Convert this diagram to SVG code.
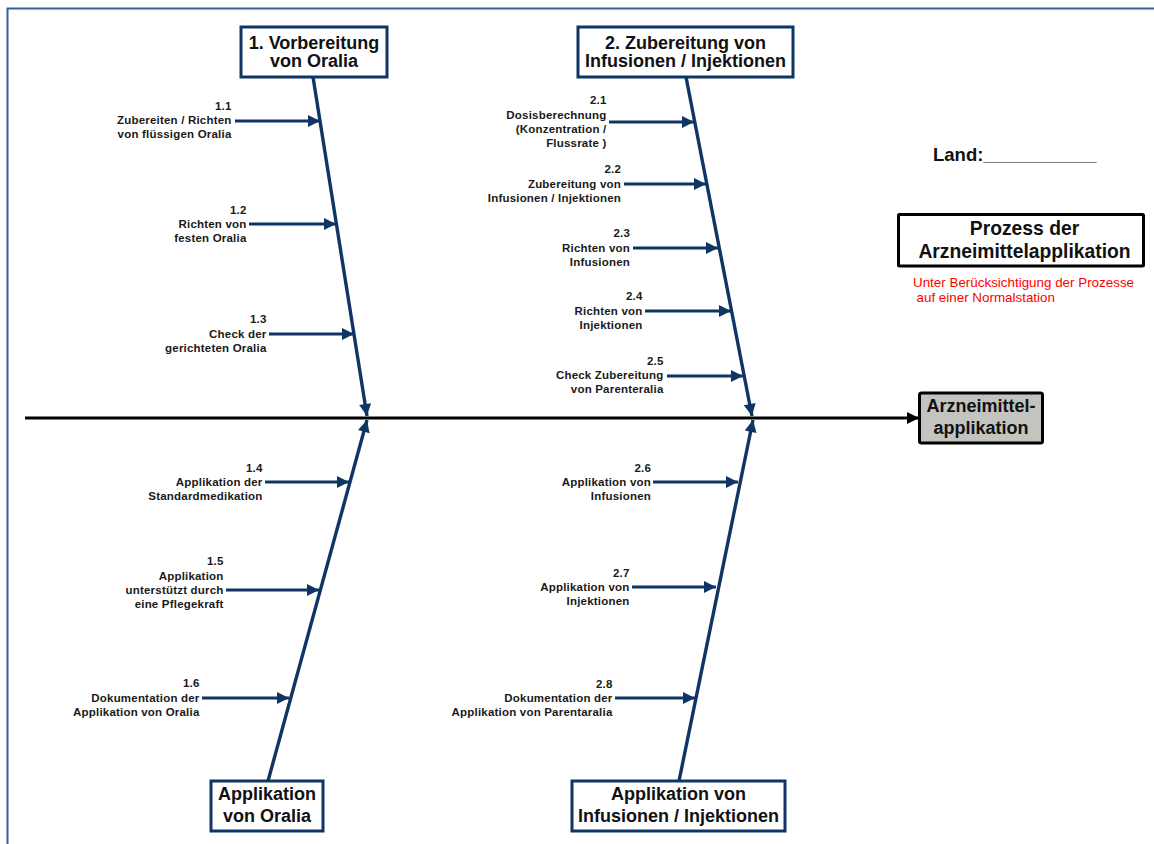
<svg xmlns="http://www.w3.org/2000/svg" width="1154" height="844" viewBox="0 0 1154 844">
  <style>
    .frame { fill: none; stroke: #34609a; stroke-width: 2; }
    .box { fill: #ffffff; stroke: #0f3565; stroke-width: 3; }
    .head { font-family: "Liberation Sans", Arial, sans-serif; font-weight: bold; font-size: 18px; fill: #111; text-anchor: middle; }
    .lbl { font-family: "Liberation Sans", Arial, sans-serif; font-weight: bold; font-size: 11.5px; letter-spacing: 0.2px; fill: #1a1a1a; text-anchor: end; }
    .spine { stroke: #0f3565; stroke-width: 3.4; fill: none; }
    .branch { stroke: #0f3565; stroke-width: 2.8; fill: none; }
    .main { stroke: #000; stroke-width: 3.2; fill: none; }
  </style>
  <defs>
    <marker id="arrNavy" viewBox="0 0 10 10" refX="10" refY="5" markerWidth="13" markerHeight="12" markerUnits="userSpaceOnUse" orient="auto">
      <path d="M0,0 L10,5 L0,10 z" fill="#0f3565"/>
    </marker>
    <marker id="arrSpine" viewBox="0 0 10 10" refX="10" refY="5" markerWidth="14" markerHeight="12" markerUnits="userSpaceOnUse" orient="auto">
      <path d="M0,0 L10,5 L0,10 z" fill="#0f3565"/>
    </marker>
    <marker id="arrBlack" viewBox="0 0 10 10" refX="10" refY="5" markerWidth="13" markerHeight="12" markerUnits="userSpaceOnUse" orient="auto">
      <path d="M0,0 L10,5 L0,10 z" fill="#000"/>
    </marker>
  </defs>

  <!-- page frame -->
  <path class="frame" d="M7.5,844 L7.5,8.5 L1154,8.5"/>

  <!-- connectors: main line, spines and branch arrows -->
  <g id="connectors">
    <line class="main" x1="25" y1="418" x2="919" y2="418" marker-end="url(#arrBlack)"/>

    <line class="spine" x1="313" y1="77" x2="367" y2="416" marker-end="url(#arrSpine)"/>
    <line class="spine" x1="268" y1="781" x2="367" y2="420" marker-end="url(#arrSpine)"/>
    <line class="spine" x1="686" y1="77" x2="752" y2="416" marker-end="url(#arrSpine)"/>
    <line class="spine" x1="679" y1="781" x2="753" y2="420" marker-end="url(#arrSpine)"/>

    <line class="branch" x1="235" y1="121" x2="320" y2="121" marker-end="url(#arrNavy)"/>
    <line class="branch" x1="249" y1="224" x2="336" y2="224" marker-end="url(#arrNavy)"/>
    <line class="branch" x1="269" y1="334" x2="354" y2="334" marker-end="url(#arrNavy)"/>
    <line class="branch" x1="265" y1="482" x2="349" y2="482" marker-end="url(#arrNavy)"/>
    <line class="branch" x1="226" y1="590" x2="319" y2="590" marker-end="url(#arrNavy)"/>
    <line class="branch" x1="202" y1="698" x2="289" y2="698" marker-end="url(#arrNavy)"/>

    <line class="branch" x1="609" y1="122" x2="694" y2="122" marker-end="url(#arrNavy)"/>
    <line class="branch" x1="624" y1="184" x2="706" y2="184" marker-end="url(#arrNavy)"/>
    <line class="branch" x1="633" y1="248" x2="718" y2="248" marker-end="url(#arrNavy)"/>
    <line class="branch" x1="645" y1="311" x2="731" y2="311" marker-end="url(#arrNavy)"/>
    <line class="branch" x1="667" y1="376" x2="743" y2="376" marker-end="url(#arrNavy)"/>
    <line class="branch" x1="653" y1="482" x2="738" y2="482" marker-end="url(#arrNavy)"/>
    <line class="branch" x1="632" y1="587" x2="716" y2="587" marker-end="url(#arrNavy)"/>
    <line class="branch" x1="615" y1="698" x2="695" y2="698" marker-end="url(#arrNavy)"/>
  </g>

  <!-- category boxes -->
  <g id="cat1">
    <rect class="box" x="241" y="27" width="146" height="50"/>
    <text class="head" x="314" y="49">1. Vorbereitung</text>
    <text class="head" x="314" y="67">von Oralia</text>
  </g>
  <g id="cat2">
    <rect class="box" x="578" y="27" width="215" height="50"/>
    <text class="head" x="685.5" y="49">2. Zubereitung von</text>
    <text class="head" x="685.5" y="67">Infusionen / Injektionen</text>
  </g>
  <g id="cat3">
    <rect class="box" x="211" y="781" width="112" height="50"/>
    <text class="head" x="267" y="800">Applikation</text>
    <text class="head" x="267" y="822">von Oralia</text>
  </g>
  <g id="cat4">
    <rect class="box" x="572" y="781" width="213" height="50"/>
    <text class="head" x="678.5" y="800">Applikation von</text>
    <text class="head" x="678.5" y="822">Infusionen / Injektionen</text>
  </g>

  <!-- effect box -->
  <g id="effect">
    <rect x="919.5" y="393" width="123" height="50" rx="2" fill="#c3c3c0" stroke="#000" stroke-width="3"/>
    <text class="head" x="981" y="412">Arzneimittel-</text>
    <text class="head" x="981" y="434">applikation</text>
  </g>

  <!-- title block -->
  <g id="land">
    <text x="933" y="161" font-family="Liberation Sans, Arial, sans-serif" font-weight="bold" font-size="18.5" fill="#111">Land:___________</text>
  </g>
  <g id="title">
    <rect x="898.5" y="214.5" width="245" height="51.5" fill="#fff" stroke="#000" stroke-width="3" rx="1"/>
    <text x="1024.5" y="235" text-anchor="middle" font-family="Liberation Sans, Arial, sans-serif" font-weight="bold" font-size="19.3" fill="#111">Prozess der</text>
    <text x="1024.5" y="258" text-anchor="middle" font-family="Liberation Sans, Arial, sans-serif" font-weight="bold" font-size="19.3" fill="#111">Arzneimittelapplikation</text>
    <text x="913" y="287" font-family="Liberation Sans, Arial, sans-serif" font-size="13.4" fill="#ff0000">Unter Berücksichtigung der Prozesse</text>
    <text x="916.5" y="302" font-family="Liberation Sans, Arial, sans-serif" font-size="13.4" fill="#ff0000">auf einer Normalstation</text>
  </g>

  <!-- cause labels -->
  <g id="c11">
    <text class="lbl" x="231.5" y="110">1.1</text>
    <text class="lbl" x="231.5" y="124">Zubereiten / Richten</text>
    <text class="lbl" x="231.5" y="138">von flüssigen Oralia</text>
  </g>
  <g id="c12">
    <text class="lbl" x="246.5" y="213.5">1.2</text>
    <text class="lbl" x="246.5" y="227.5">Richten von</text>
    <text class="lbl" x="246.5" y="241.5">festen Oralia</text>
  </g>
  <g id="c13">
    <text class="lbl" x="266.5" y="323">1.3</text>
    <text class="lbl" x="266.5" y="337.5">Check der</text>
    <text class="lbl" x="266.5" y="351.5">gerichteten Oralia</text>
  </g>
  <g id="c14">
    <text class="lbl" x="262.5" y="472">1.4</text>
    <text class="lbl" x="262.5" y="486">Applikation der</text>
    <text class="lbl" x="262.5" y="500">Standardmedikation</text>
  </g>
  <g id="c15">
    <text class="lbl" x="223.5" y="565">1.5</text>
    <text class="lbl" x="223.5" y="579.5">Applikation</text>
    <text class="lbl" x="223.5" y="594">unterstützt durch</text>
    <text class="lbl" x="223.5" y="608">eine Pflegekraft</text>
  </g>
  <g id="c16">
    <text class="lbl" x="199.5" y="687">1.6</text>
    <text class="lbl" x="199.5" y="701.5">Dokumentation der</text>
    <text class="lbl" x="199.5" y="715.5">Applikation von Oralia</text>
  </g>

  <g id="c21">
    <text class="lbl" x="606.5" y="103.5">2.1</text>
    <text class="lbl" x="606.5" y="118.5">Dosisberechnung</text>
    <text class="lbl" x="606.5" y="133">(Konzentration /</text>
    <text class="lbl" x="606.5" y="147">Flussrate )</text>
  </g>
  <g id="c22">
    <text class="lbl" x="621" y="173">2.2</text>
    <text class="lbl" x="621" y="187.5">Zubereitung von</text>
    <text class="lbl" x="621" y="201.5">Infusionen / Injektionen</text>
  </g>
  <g id="c23">
    <text class="lbl" x="630" y="237">2.3</text>
    <text class="lbl" x="630" y="251.5">Richten von</text>
    <text class="lbl" x="630" y="265.5">Infusionen</text>
  </g>
  <g id="c24">
    <text class="lbl" x="642.5" y="300">2.4</text>
    <text class="lbl" x="642.5" y="315">Richten von</text>
    <text class="lbl" x="642.5" y="329">Injektionen</text>
  </g>
  <g id="c25">
    <text class="lbl" x="663.5" y="365">2.5</text>
    <text class="lbl" x="663.5" y="379">Check Zubereitung</text>
    <text class="lbl" x="663.5" y="393">von Parenteralia</text>
  </g>
  <g id="c26">
    <text class="lbl" x="651" y="472">2.6</text>
    <text class="lbl" x="651" y="486">Applikation von</text>
    <text class="lbl" x="651" y="500">Infusionen</text>
  </g>
  <g id="c27">
    <text class="lbl" x="629.5" y="577">2.7</text>
    <text class="lbl" x="629.5" y="591">Applikation von</text>
    <text class="lbl" x="629.5" y="605">Injektionen</text>
  </g>
  <g id="c28">
    <text class="lbl" x="612.5" y="688">2.8</text>
    <text class="lbl" x="612.5" y="702">Dokumentation der</text>
    <text class="lbl" x="612.5" y="716">Applikation von Parentaralia</text>
  </g>
</svg>
